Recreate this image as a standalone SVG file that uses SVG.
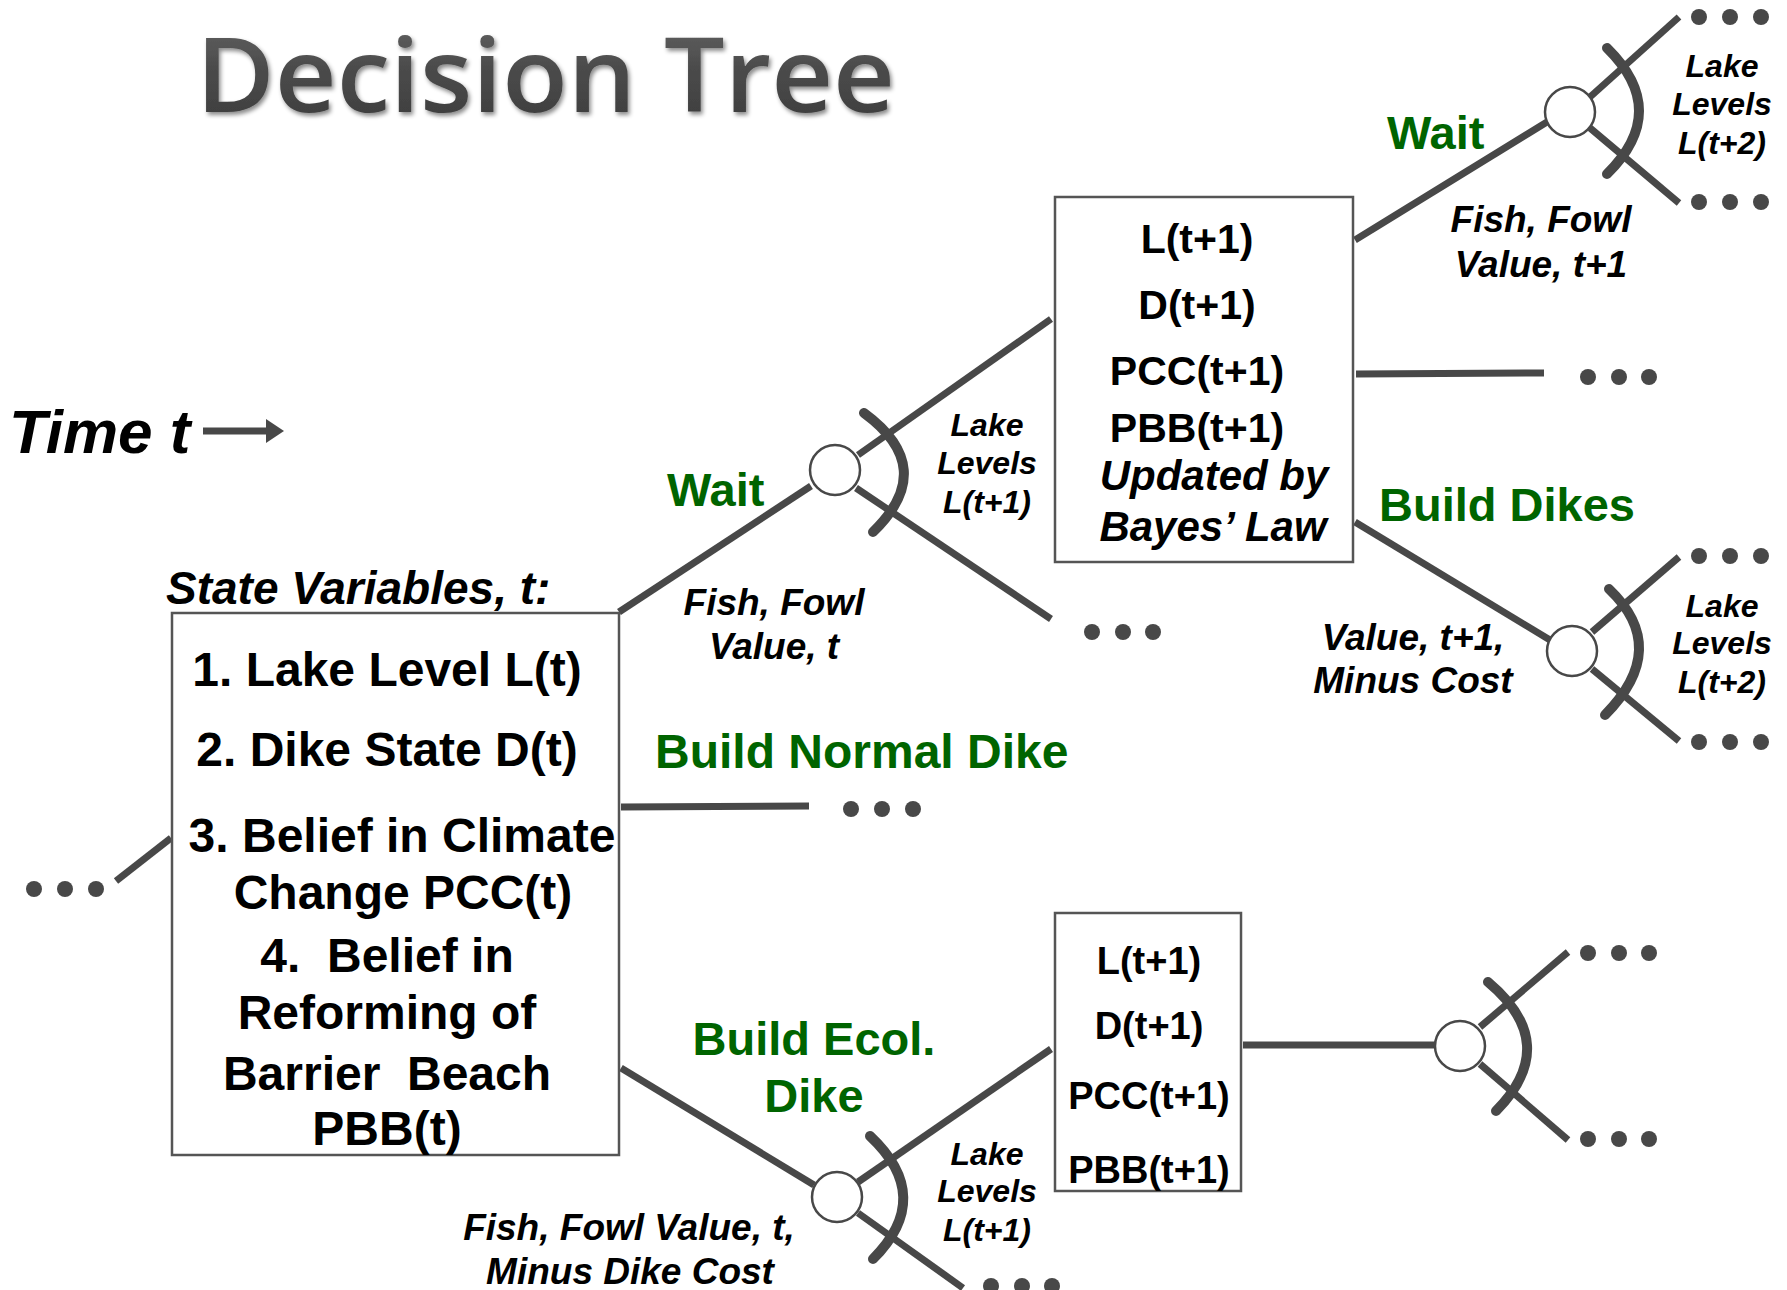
<svg xmlns="http://www.w3.org/2000/svg" width="1787" height="1290" viewBox="0 0 1787 1290">
<style>
.ln{stroke:#484848;stroke-width:7;fill:none;stroke-linecap:butt}
.arc{stroke:#484848;stroke-width:10;fill:none;stroke-linecap:round}
.cn{fill:#fff;stroke:#484848;stroke-width:2.5}
.box{fill:#fff;stroke:#555;stroke-width:2.5}
.dot{fill:#484848}
.t{font-family:"Liberation Sans",Arial,sans-serif;font-weight:bold;fill:#000;text-anchor:middle}
.i{font-style:italic}
.g{fill:#006400;font-family:"Liberation Sans",Arial,sans-serif;font-weight:bold;font-size:47px}
.s{font-size:48px;white-space:pre}
.v{font-size:41px}
.lab{font-size:32px}
.val{font-size:37px}
</style>
<defs>
<filter id="sh" x="-5%" y="-20%" width="110%" height="150%">
<feDropShadow dx="2" dy="3" stdDeviation="2" flood-color="#000" flood-opacity="0.45"/>
</filter>
<linearGradient id="tg" x1="0" y1="0" x2="0" y2="1">
<stop offset="0" stop-color="#6a6a6a"/>
<stop offset="0.5" stop-color="#4a4a4a"/>
<stop offset="1" stop-color="#3a3a3a"/>
</linearGradient>
</defs>
<rect width="1787" height="1290" fill="#fff"/>

<g id="title">
<text x="196" y="112" font-family="'Open Sans',sans-serif" font-weight="600" font-size="104" fill="url(#tg)" filter="url(#sh)" textLength="699" lengthAdjust="spacingAndGlyphs">Decision Tree</text>
</g>

<g id="time">
<text x="9" y="453" class="t i" style="text-anchor:start;font-size:62px">Time t</text>
<line x1="203" y1="431" x2="268" y2="431" class="ln"/>
<polygon points="266,419 284,431 266,443" fill="#484848"/>
</g>

<g id="connectors">
<line x1="116" y1="881" x2="171" y2="838" class="ln"/>
<line x1="619" y1="612" x2="811" y2="486" class="ln"/>
<line x1="621" y1="807" x2="809" y2="806" class="ln"/>
<line x1="621" y1="1068" x2="814" y2="1185" class="ln"/>
<line x1="858" y1="455" x2="1051" y2="319" class="ln"/>
<line x1="856" y1="488" x2="1051" y2="619" class="ln"/>
<line x1="858" y1="1182" x2="1051" y2="1049" class="ln"/>
<line x1="858" y1="1213" x2="963" y2="1288" class="ln"/>
<line x1="1355" y1="240" x2="1547" y2="122" class="ln"/>
<line x1="1356" y1="374" x2="1544" y2="373" class="ln"/>
<line x1="1355" y1="522" x2="1550" y2="640" class="ln"/>
<line x1="1243" y1="1045" x2="1435" y2="1045" class="ln"/>
<line x1="1590" y1="97" x2="1679" y2="17" class="ln"/>
<line x1="1590" y1="128" x2="1679" y2="203" class="ln"/>
<line x1="1592" y1="632" x2="1679" y2="557" class="ln"/>
<line x1="1592" y1="669" x2="1679" y2="741" class="ln"/>
<line x1="1480" y1="1027" x2="1568" y2="952" class="ln"/>
<line x1="1480" y1="1064" x2="1568" y2="1140" class="ln"/>
<path d="M864,413 Q939,468 873,532" class="arc"/>
<path d="M870,1136 Q935,1197 873,1259" class="arc"/>
<path d="M1607,48 Q1671,111 1607,174" class="arc"/>
<path d="M1609,589 Q1671,648 1605,715" class="arc"/>
<path d="M1488,982 Q1562,1044 1496,1111" class="arc"/>
</g>

<g id="dots">
<circle cx="34" cy="889" r="8" class="dot"/><circle cx="65" cy="889" r="8" class="dot"/><circle cx="96" cy="889" r="8" class="dot"/>
<circle cx="1092" cy="632" r="8" class="dot"/><circle cx="1123" cy="632" r="8" class="dot"/><circle cx="1153" cy="632" r="8" class="dot"/>
<circle cx="851" cy="809" r="8" class="dot"/><circle cx="882" cy="809" r="8" class="dot"/><circle cx="913" cy="809" r="8" class="dot"/>
<circle cx="991" cy="1286" r="8" class="dot"/><circle cx="1022" cy="1286" r="8" class="dot"/><circle cx="1052" cy="1286" r="8" class="dot"/>
<circle cx="1588" cy="377" r="8" class="dot"/><circle cx="1619" cy="377" r="8" class="dot"/><circle cx="1649" cy="377" r="8" class="dot"/>
<circle cx="1699" cy="17" r="8" class="dot"/><circle cx="1730" cy="17" r="8" class="dot"/><circle cx="1761" cy="17" r="8" class="dot"/>
<circle cx="1699" cy="202" r="8" class="dot"/><circle cx="1730" cy="202" r="8" class="dot"/><circle cx="1761" cy="202" r="8" class="dot"/>
<circle cx="1699" cy="556" r="8" class="dot"/><circle cx="1730" cy="556" r="8" class="dot"/><circle cx="1761" cy="556" r="8" class="dot"/>
<circle cx="1699" cy="742" r="8" class="dot"/><circle cx="1730" cy="742" r="8" class="dot"/><circle cx="1761" cy="742" r="8" class="dot"/>
<circle cx="1588" cy="953" r="8" class="dot"/><circle cx="1619" cy="953" r="8" class="dot"/><circle cx="1649" cy="953" r="8" class="dot"/>
<circle cx="1588" cy="1139" r="8" class="dot"/><circle cx="1619" cy="1139" r="8" class="dot"/><circle cx="1649" cy="1139" r="8" class="dot"/>
</g>

<g id="state-box">
<text x="166" y="604" class="t i" style="text-anchor:start;font-size:46px">State Variables, t:</text>
<rect x="172" y="613" width="447" height="542" class="box"/>
<text x="387" y="686" class="t s">1. Lake Level L(t)</text>
<text x="387" y="766" class="t s">2. Dike State D(t)</text>
<text x="402" y="852" class="t s">3. Belief in Climate</text>
<text x="403" y="909" class="t s">Change PCC(t)</text>
<text x="387" y="972" class="t s">4.  Belief in</text>
<text x="387" y="1029" class="t s">Reforming of</text>
<text x="387" y="1090" class="t s">Barrier  Beach</text>
<text x="387" y="1145" class="t s">PBB(t)</text>
</g>

<g id="chance-a">
<circle cx="835" cy="470" r="25" class="cn"/>
<text x="987" y="436" class="t i lab">Lake</text>
<text x="987" y="474" class="t i lab">Levels</text>
<text x="987" y="513" class="t i lab">L(t+1)</text>
</g>
<g id="wait-1-labels">
<text x="667" y="506" class="g">Wait</text>
<text x="774" y="615" class="t i val">Fish, Fowl</text>
<text x="774" y="659" class="t i val">Value, t</text>
</g>
<g id="normal-dike-label">
<text x="655" y="768" class="g" style="font-size:48px">Build Normal Dike</text>
</g>
<g id="ecol-labels">
<text x="814" y="1055" class="g" text-anchor="middle">Build Ecol.</text>
<text x="814" y="1112" class="g" text-anchor="middle">Dike</text>
<text x="629" y="1240" class="t i val">Fish, Fowl Value, t,</text>
<text x="630" y="1284" class="t i val">Minus Dike Cost</text>
</g>

<g id="state-box-b">
<rect x="1055" y="197" width="298" height="365" class="box"/>
<text x="1197" y="253" class="t v">L(t+1)</text>
<text x="1197" y="319" class="t v">D(t+1)</text>
<text x="1197" y="385" class="t v">PCC(t+1)</text>
<text x="1197" y="442" class="t v">PBB(t+1)</text>
<text x="1214" y="490" class="t i" style="font-size:42px">Updated by</text>
<text x="1213" y="541" class="t i" style="font-size:42px">Bayes’ Law</text>
</g>

<g id="wait-2-labels">
<text x="1387" y="149" class="g">Wait</text>
<text x="1541" y="232" class="t i val">Fish, Fowl</text>
<text x="1541" y="277" class="t i val">Value, t+1</text>
</g>
<g id="build-dikes-labels">
<text x="1379" y="521" class="g">Build Dikes</text>
<text x="1413" y="650" class="t i val">Value, t+1,</text>
<text x="1413" y="693" class="t i val">Minus Cost</text>
</g>

<g id="chance-c">
<circle cx="1570" cy="112" r="25" class="cn"/>
<text x="1722" y="77" class="t i lab">Lake</text>
<text x="1722" y="115" class="t i lab">Levels</text>
<text x="1722" y="154" class="t i lab">L(t+2)</text>
</g>

<g id="chance-d">
<circle cx="1572" cy="651" r="25" class="cn"/>
<text x="1722" y="617" class="t i lab">Lake</text>
<text x="1722" y="654" class="t i lab">Levels</text>
<text x="1722" y="693" class="t i lab">L(t+2)</text>
</g>

<g id="chance-e">
<circle cx="837" cy="1197" r="25" class="cn"/>
<text x="987" y="1165" class="t i lab">Lake</text>
<text x="987" y="1202" class="t i lab">Levels</text>
<text x="987" y="1241" class="t i lab">L(t+1)</text>
</g>

<g id="state-box-f">
<rect x="1055" y="913" width="186" height="278" class="box"/>
<text x="1149" y="974" class="t" style="font-size:38px">L(t+1)</text>
<text x="1149" y="1039" class="t" style="font-size:38px">D(t+1)</text>
<text x="1149" y="1109" class="t" style="font-size:38px">PCC(t+1)</text>
<text x="1149" y="1183" class="t" style="font-size:38px">PBB(t+1)</text>
</g>

<g id="chance-g">
<circle cx="1460" cy="1046" r="25" class="cn"/>
</g>
</svg>
